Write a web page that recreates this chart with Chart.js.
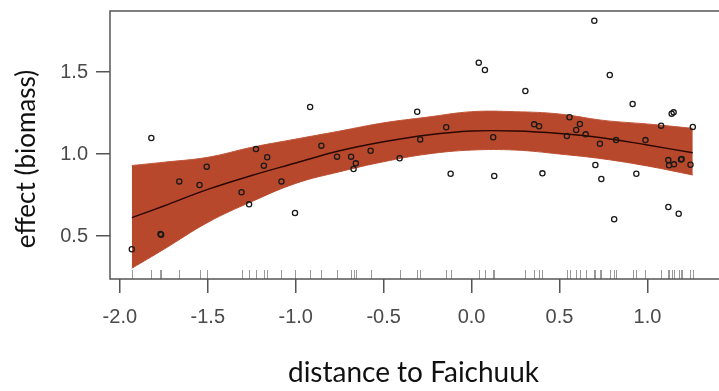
<!DOCTYPE html>
<html>
<head>
<meta charset="utf-8">
<script src="https://cdn.jsdelivr.net/npm/chart.js@4.4.1/dist/chart.umd.min.js"></script>
<style>
html, body { margin: 0; padding: 0; background: #fff; }
#wrap { width: 719px; height: 391px; }
</style>
</head>
<body>
<div id="wrap"><canvas id="canvas1" width="719" height="391"></canvas></div>
<script>
// observations: distance to Faichuuk vs partial effect on biomass
var distX = [-1.821, -1.506, -1.662, -1.547, -1.769, -1.765, -1.932, -1.226, -1.162, -1.181,
             -1.308, -1.265, -1.081, -1.004, -0.918, -0.854, -0.765, -0.685, -0.658, -0.671,
             -0.574, -0.409, -0.309, -0.292, -0.144, -0.119, 0.041, 0.076, 0.123, 0.129,
             0.306, 0.356, 0.384, 0.403, 0.557, 0.542, 0.595, 0.616, 0.649, 0.698,
             0.704, 0.730, 0.738, 0.786, 0.822, 0.811, 0.916, 0.937, 0.989, 1.078,
             1.138, 1.149, 1.119, 1.123, 1.151, 1.191, 1.195, 1.245, 1.258, 1.119, 1.178];
var effectY = [1.098, 0.923, 0.833, 0.811, 0.512, 0.508, 0.419, 1.030, 0.980, 0.929,
               0.767, 0.693, 0.833, 0.640, 1.287, 1.051, 0.984, 0.984, 0.943, 0.909,
               1.020, 0.974, 1.258, 1.089, 1.163, 0.880, 1.557, 1.512, 1.102, 0.866,
               1.384, 1.181, 1.169, 0.882, 1.224, 1.110, 1.146, 1.183, 1.120, 1.813,
               0.933, 1.063, 0.848, 1.482, 1.085, 0.602, 1.305, 0.880, 1.085, 1.173,
               1.246, 1.254, 0.963, 0.931, 0.937, 0.967, 0.970, 0.935, 1.165, 0.677, 0.636];

// smooth fit and confidence band
var gridX  = [-1.932, -1.75, -1.5, -1.25, -1.0, -0.75, -0.5, -0.25, 0.0, 0.25, 0.5, 0.75, 1.0, 1.258];
var fitY   = [0.612, 0.683, 0.784, 0.869, 0.945, 1.020, 1.075, 1.116, 1.140, 1.140, 1.125, 1.098, 1.055, 1.008];
var upperY = [0.930, 0.950, 0.980, 1.041, 1.091, 1.140, 1.190, 1.225, 1.258, 1.258, 1.244, 1.205, 1.183, 1.157];
var lowerY = [0.303, 0.419, 0.583, 0.710, 0.821, 0.892, 0.953, 1.000, 1.024, 1.024, 1.000, 0.970, 0.927, 0.872];

var xTicks = [-2.0, -1.5, -1.0, -0.5, 0.0, 0.5, 1.0];
var yTicks = [0.5, 1.0, 1.5];

function pairs(xs, ys) {
    return xs.map(function(x, i){ return {x: x, y: ys[i]}; });
}

var rPlot = {
    id: 'rPlot',
    afterDraw: function(chart) {
        var ctx = chart.ctx, a = chart.chartArea, sx = chart.scales.x;
        ctx.save();
        // rug
        ctx.strokeStyle = '#999';
        ctx.lineWidth = 1;
        distX.forEach(function(v){
            var px = Math.round(sx.getPixelForValue(v)) + 0.5;
            ctx.beginPath();
            ctx.moveTo(px, a.bottom);
            ctx.lineTo(px, a.bottom - 9);
            ctx.stroke();
        });
        // box (right side falls off the picture)
        ctx.strokeStyle = '#555';
        ctx.lineWidth = 1.5;
        ctx.beginPath();
        ctx.moveTo(chart.width, a.top);
        ctx.lineTo(a.left, a.top);
        ctx.lineTo(a.left, a.bottom);
        ctx.lineTo(chart.width, a.bottom);
        ctx.stroke();
        // axis titles
        ctx.fillStyle = '#111';
        ctx.textAlign = 'center';
        ctx.textBaseline = 'middle';
        ctx.font = '28px Lato';
        ctx.fillText('distance to Faichuuk', 413.5, 373);
        ctx.translate(27, 159);
        ctx.rotate(-Math.PI / 2);
        ctx.font = '26px Lato';
        ctx.fillText('effect (biomass)', 0, 0);
        ctx.restore();
    }
};

var tickFont = { family: 'Liberation Sans', size: 20 };

new Chart(document.getElementById('canvas1'), {
    type: 'scatter',
    data: {
        datasets: [
            {
                type: 'line',
                data: pairs(gridX, upperY),
                borderColor: '#c0573b',
                borderWidth: 1,
                backgroundColor: '#b8482c',
                pointRadius: 0,
                tension: 0.4,
                fill: '+1',
                order: 3
            },
            {
                type: 'line',
                data: pairs(gridX, lowerY),
                borderColor: '#c0573b',
                borderWidth: 1,
                pointRadius: 0,
                tension: 0.4,
                fill: false,
                order: 3
            },
            {
                type: 'line',
                data: pairs(gridX, fitY),
                borderColor: '#2a0800',
                borderWidth: 1.4,
                pointRadius: 0,
                tension: 0.4,
                fill: false,
                order: 2
            },
            {
                data: pairs(distX, effectY),
                pointRadius: 2.6,
                borderWidth: 1.3,
                borderColor: '#1a1a1a',
                backgroundColor: 'rgba(0,0,0,0)',
                order: 1
            }
        ]
    },
    options: {
        responsive: false,
        animation: false,
        events: [],
        layout: { padding: { top: 11, left: 0, right: 0, bottom: 0 } },
        plugins: { legend: { display: false }, tooltip: { enabled: false } },
        scales: {
            x: {
                type: 'linear',
                min: -2.056,
                max: 1.377,
                afterBuildTicks: function(s){ s.ticks = xTicks.map(function(v){ return {value: v}; }); },
                afterFit: function(s){ s.height = 112; s.paddingLeft = 0; s.paddingRight = 0; },
                grid: { drawOnChartArea: false, drawTicks: true, tickLength: 14, color: '#555', lineWidth: 1.5 },
                border: { display: false },
                ticks: { color: '#4a4a4a', font: tickFont, padding: 12, maxRotation: 0,
                         callback: function(v){ return v.toFixed(1); } }
            },
            y: {
                type: 'linear',
                min: 0.238,
                max: 1.872,
                afterBuildTicks: function(s){ s.ticks = yTicks.map(function(v){ return {value: v}; }); },
                afterFit: function(s){ s.width = 110; s.paddingTop = 0; s.paddingBottom = 0; },
                grid: { drawOnChartArea: false, drawTicks: true, tickLength: 14, color: '#555', lineWidth: 1.5 },
                border: { display: false },
                ticks: { color: '#4a4a4a', font: tickFont, padding: 8,
                         callback: function(v){ return v.toFixed(1); } }
            }
        }
    },
    plugins: [rPlot]
});
</script>
</body>
</html>
